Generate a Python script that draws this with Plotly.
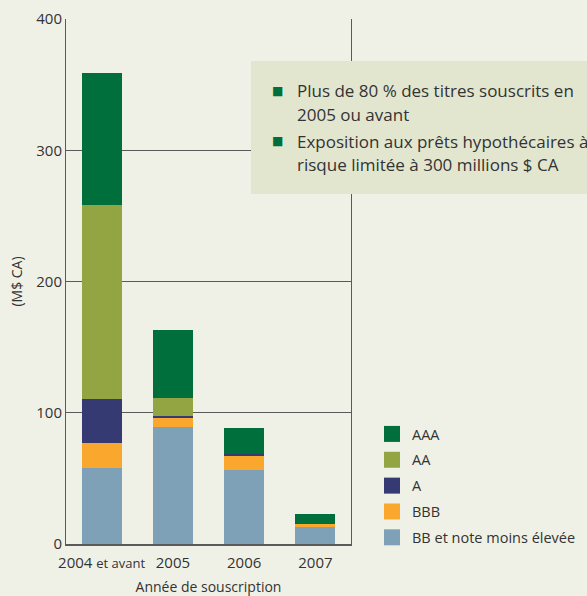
import plotly.graph_objects as go

# ---- data ----
categories = ["2004 <span style='font-size:13px'>et avant</span>", "2005", "2006", "2007"]
series_names = ["BB et note moins élevée", "BBB", "A", "AA", "AAA"]
bb = [58, 89, 56.4, 13.7]
bbb = [19, 7.6, 11.4, 1.5]
a_vals = [33.5, 0.8, 0.8, 0]
aa = [148, 13.7, 0, 0]
aaa = [100.6, 51.8, 19.8, 7.6]
y_ticks = [0, 100, 200, 300, 400]
note_lines = [
    "Plus de 80 % des titres souscrits en",
    "2005 ou avant",
    "Exposition aux prêts hypothécaires à",
    "risque limitée à 300 millions $ CA",
]

colors = {
    "AAA": "#006F3B",
    "AA": "#93A543",
    "A": "#363A72",
    "BBB": "#F9A82D",
    "BB et note moins élevée": "#7FA1B7",
}
values = {
    "BB et note moins élevée": bb,
    "BBB": bbb,
    "A": a_vals,
    "AA": aa,
    "AAA": aaa,
}

FONT = "Open Sans, Noto Sans, sans-serif"
TXT = "#333333"
GRID = "#5a5a5a"
BG = "#F0F1E6"

fig = go.Figure()
for name in series_names:
    fig.add_trace(go.Bar(
        x=categories, y=values[name], name=name,
        marker=dict(color=colors[name], line=dict(width=0)),
        width=0.56, showlegend=False,
    ))
# legend entries (square swatches), top-to-bottom AAA..BB
for name in reversed(series_names):
    fig.add_trace(go.Scatter(
        x=[None], y=[None], mode="markers", name=name, legendgroup=name,
        marker=dict(symbol="square", size=16, color=colors[name]),
        showlegend=True, hoverinfo="skip",
    ))

W, H = 587, 596
L, R, T, B = 66, 351, 19, 544

def px_x(x):
    return (x - L) / (R - L)

def px_y(y):
    return (B - y) / (B - T)

fig.update_layout(
    width=W, height=H,
    margin=dict(l=L, r=W - R, t=T, b=H - B, autoexpand=False),
    paper_bgcolor=BG, plot_bgcolor=BG,
    barmode="stack", bargap=0.44,
    font=dict(family=FONT, size=14, color=TXT),
    showlegend=True,
    legend=dict(
        x=px_x(372), y=px_y(418), xanchor="left", yanchor="top",
        traceorder="grouped", tracegroupgap=4,
        font=dict(family=FONT, size=14.5, color=TXT),
        bgcolor="rgba(0,0,0,0)", borderwidth=0,
    ),
    xaxis=dict(
        type="category", showgrid=False, showline=True, linecolor=GRID,
        linewidth=2, mirror=False, ticks="", tickfont=dict(size=15, color=TXT),
        ticklabelstandoff=4,
        title=dict(text="Année de souscription", font=dict(size=14, color=TXT), standoff=17),
        zeroline=False, fixedrange=True, automargin=False,
    ),
    yaxis=dict(
        range=[0, 400], tickvals=y_ticks, showgrid=True, gridcolor=GRID, gridwidth=1,
        showline=True, linecolor=GRID, linewidth=1, mirror=True, ticks="",
        tickfont=dict(size=15, color=TXT),
        title=dict(text="(M$ CA)", font=dict(size=14, color=TXT), standoff=10),
        zeroline=False, automargin=False, fixedrange=True,
    ),
    shapes=[dict(
        type="rect", xref="paper", yref="paper", layer="above",
        x0=px_x(251), x1=px_x(620), y0=px_y(194), y1=px_y(61),
        fillcolor="#E2E6CF", line=dict(width=0),
    )],
)

line_y = [90, 114, 141, 165]
for txt, yy in zip(note_lines, line_y):
    fig.add_annotation(
        text=txt, xref="paper", yref="paper", x=px_x(295), y=px_y(yy),
        xanchor="left", yanchor="middle", showarrow=False,
        font=dict(family=FONT, size=17, color=TXT),
    )
for yy in [91, 141]:
    fig.add_annotation(
        text="■", xref="paper", yref="paper", x=px_x(277.5), y=px_y(yy),
        xanchor="center", yanchor="middle", showarrow=False,
        font=dict(family="DejaVu Sans", size=12, color="#006F3B"),
    )

fig.write_html(
    "out.html",
    config={"displayModeBar": False},
    post_script="document.body.style.margin='0';document.body.style.background='%s';" % BG,
)
